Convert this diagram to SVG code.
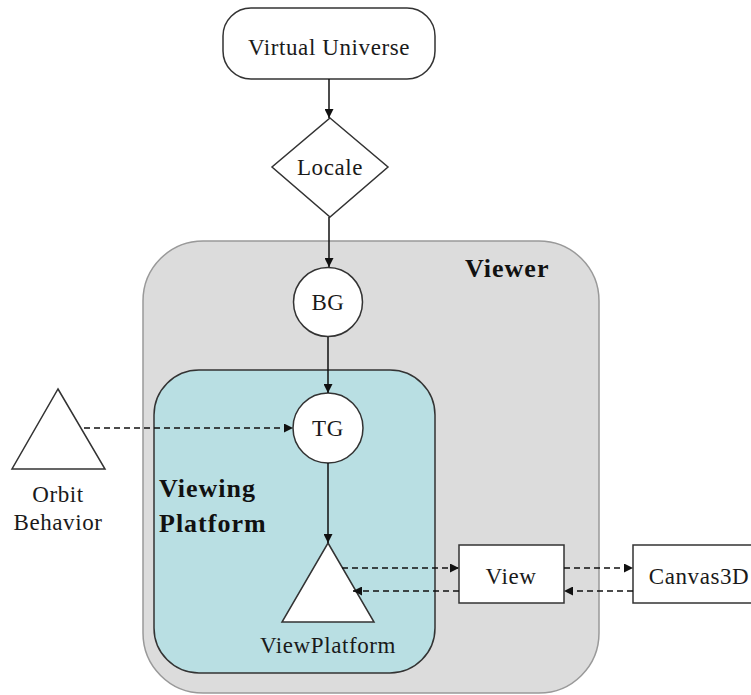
<svg xmlns="http://www.w3.org/2000/svg" width="751" height="695" viewBox="0 0 751 695">
  <style>
    .lbl { font-family: "Liberation Serif", "Times New Roman", serif; font-size: 23px; letter-spacing: 0.6px; fill: #1a1a1a; text-anchor: middle; }
    .bold { font-family: "Liberation Serif", "Times New Roman", serif; font-size: 26px; font-weight: bold; letter-spacing: 1px; fill: #111; }
    .shape { fill: #fff; stroke: #333; stroke-width: 1.5; }
    .edge { fill: none; stroke: #111; stroke-width: 1.5; }
    .dash { fill: none; stroke: #111; stroke-width: 1.5; stroke-dasharray: 6 4; }
  </style>
  <defs>
    <marker id="arrow" viewBox="0 0 10 10" refX="10" refY="5" markerWidth="9" markerHeight="9" markerUnits="userSpaceOnUse" orient="auto">
      <path d="M0,0 L10,5 L0,10 Z" fill="#111"/>
    </marker>
  </defs>

  <rect width="751" height="695" fill="#fff"/>

  <!-- Viewer container -->
  <g id="viewer">
    <rect x="143" y="241" width="456" height="452" rx="60" ry="60" fill="#dcdcdc" stroke="#999" stroke-width="1.5"/>
    <text class="bold" x="465" y="277">Viewer</text>
  </g>

  <!-- Viewing Platform container -->
  <g id="viewing-platform">
    <rect x="154" y="370" width="281" height="303" rx="45" ry="45" fill="#b9dfe3" stroke="#333" stroke-width="1.5"/>
    <text class="bold" x="159" y="497">Viewing</text>
    <text class="bold" x="159" y="532">Platform</text>
  </g>

  <g id="virtual-universe">
    <rect class="shape" x="223" y="8" width="212" height="71" rx="28" ry="28"/>
    <text class="lbl" x="329" y="55">Virtual Universe</text>
  </g>

  <g id="locale">
    <polygon class="shape" points="330,118 388,167 330,217 272,167"/>
    <text class="lbl" x="330" y="175">Locale</text>
  </g>

  <g id="bg">
    <circle class="shape" cx="328" cy="302" r="34.5"/>
    <text class="lbl" x="328" y="310">BG</text>
  </g>

  <g id="tg">
    <circle class="shape" cx="328" cy="428" r="35"/>
    <text class="lbl" x="328" y="436">TG</text>
  </g>

  <g id="orbit-behavior">
    <polygon class="shape" points="58,389 105,469 12,469"/>
    <text class="lbl" x="58" y="502">Orbit</text>
    <text class="lbl" x="58" y="530">Behavior</text>
  </g>

  <g id="view-platform">
    <polygon class="shape" points="328,543 374,622 282,622"/>
    <text class="lbl" x="328" y="653">ViewPlatform</text>
  </g>

  <g id="view">
    <rect class="shape" x="459" y="545" width="105" height="58"/>
    <text class="lbl" x="511" y="584">View</text>
  </g>

  <g id="canvas3d">
    <rect class="shape" x="633" y="545" width="130" height="58"/>
    <text class="lbl" x="699" y="584">Canvas3D</text>
  </g>

  <!-- Connectors -->
  <g id="connectors">
    <line class="edge" x1="329" y1="79" x2="329" y2="118" marker-end="url(#arrow)"/>
    <line class="edge" x1="329" y1="217" x2="329" y2="267" marker-end="url(#arrow)"/>
    <line class="edge" x1="328" y1="337" x2="328" y2="393" marker-end="url(#arrow)"/>
    <line class="edge" x1="328" y1="463" x2="328" y2="543" marker-end="url(#arrow)"/>
    <line class="dash" x1="84" y1="428" x2="293" y2="428" marker-end="url(#arrow)"/>
    <line class="dash" x1="342" y1="568" x2="459" y2="568" marker-end="url(#arrow)"/>
    <line class="dash" x1="459" y1="591" x2="353" y2="591" marker-end="url(#arrow)"/>
    <line class="dash" x1="564" y1="568" x2="633" y2="568" marker-end="url(#arrow)"/>
    <line class="dash" x1="633" y1="591" x2="564" y2="591" marker-end="url(#arrow)"/>
  </g>
</svg>
